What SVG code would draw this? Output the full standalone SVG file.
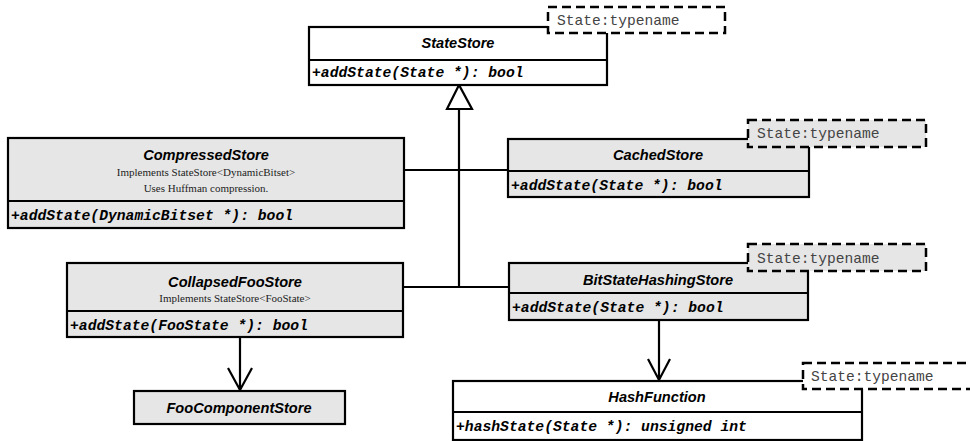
<svg xmlns="http://www.w3.org/2000/svg" width="970" height="441" viewBox="0 0 970 441">
<style>
.box{stroke:#000;stroke-width:2.2;}
.w{fill:#fff;}
.g{fill:#e6e6e6;}
.div{stroke:#000;stroke-width:2.2;fill:none;}
.title{font-family:"Liberation Sans",Arial,sans-serif;font-weight:bold;font-style:italic;font-size:14.6px;text-anchor:middle;fill:#000;}
.sub{font-family:"Liberation Serif","Times New Roman",serif;font-size:11px;text-anchor:middle;fill:#222;}
.meth{font-family:"Liberation Mono","Courier New",monospace;font-weight:bold;font-style:italic;font-size:14.7px;fill:#000;}
.note{stroke:#000;stroke-width:2.5;stroke-dasharray:9 5;}
.ntext{font-family:"Liberation Mono","Courier New",monospace;font-size:14.6px;fill:#444;}
.line{stroke:#000;stroke-width:2.2;fill:none;}
</style>
<g id="connectors">
<path class="line" d="M404 170H508M403 287H509M459 287V109"/>
<polygon points="459,85 447,109 472,109" fill="#fff" stroke="#000" stroke-width="2.2"/>
<path class="line" d="M240 337V390M228 368L240 390L252 368"/>
<path class="line" d="M659 320V380M648 359L659 380L670 359"/>
</g>
<g id="StateStore">
<rect class="box w" x="309" y="27" width="298" height="58"/>
<path class="div" d="M309 60H607"/>
<text class="title" x="458" y="48">StateStore</text>
<text class="meth" x="312" y="77">+addState(State *): bool</text>
<rect class="note w" x="548" y="7" width="177" height="26"/>
<text class="ntext" x="557" y="25">State:typename</text>
</g>
<g id="CompressedStore">
<rect class="box g" x="8" y="138" width="396" height="90"/>
<path class="div" d="M8 201H404"/>
<text class="title" x="206" y="160">CompressedStore</text>
<text class="sub" x="206" y="176">Implements StateStore&lt;DynamicBitset&gt;</text>
<text class="sub" x="206" y="192">Uses Huffman compression.</text>
<text class="meth" x="11" y="220">+addState(DynamicBitset *): bool</text>
</g>
<g id="CachedStore">
<rect class="box g" x="508" y="139" width="301" height="58"/>
<path class="div" d="M508 171H809"/>
<text class="title" x="658" y="160">CachedStore</text>
<text class="meth" x="511" y="190">+addState(State *): bool</text>
<rect class="note g" x="748" y="120" width="178" height="27"/>
<text class="ntext" x="757" y="138">State:typename</text>
</g>
<g id="CollapsedFooStore">
<rect class="box g" x="67" y="263" width="336" height="74"/>
<path class="div" d="M67 311H403"/>
<text class="title" x="235" y="287">CollapsedFooStore</text>
<text class="sub" x="235" y="302">Implements StateStore&lt;FooState&gt;</text>
<text class="meth" x="70" y="330">+addState(FooState *): bool</text>
</g>
<g id="BitStateHashingStore">
<rect class="box g" x="509" y="263" width="299" height="57"/>
<path class="div" d="M509 293H808"/>
<text class="title" x="658" y="285">BitStateHashingStore</text>
<text class="meth" x="512" y="312">+addState(State *): bool</text>
<rect class="note g" x="748" y="244" width="178" height="27"/>
<text class="ntext" x="757" y="263">State:typename</text>
</g>
<g id="FooComponentStore">
<rect class="box g" x="134" y="391" width="211" height="33"/>
<text class="title" x="239" y="413">FooComponentStore</text>
</g>
<g id="HashFunction">
<rect class="box w" x="453" y="381" width="409" height="59"/>
<path class="div" d="M453 412H862"/>
<text class="title" x="657" y="402">HashFunction</text>
<text class="meth" x="456" y="431">+hashState(State *): unsigned int</text>
<rect class="note w" x="803" y="363" width="178" height="26"/>
<text class="ntext" x="811" y="381">State:typename</text>
</g>
</svg>
